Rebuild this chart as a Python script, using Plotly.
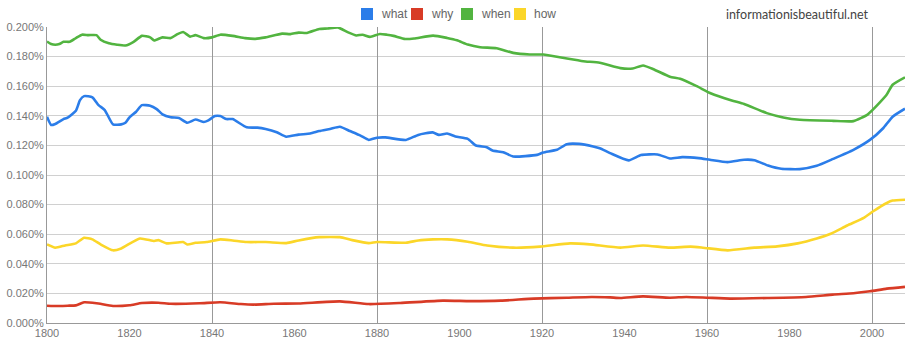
import plotly.graph_objects as go

# ---- data (percent of words) ----
when_years = [1800, 1801, 1802, 1803, 1804, 1805.5, 1807, 1808.5, 1810, 1812, 1813, 1815, 1817, 1819,
              1821, 1823, 1825, 1826, 1828, 1830, 1831.5, 1833, 1834.7, 1836, 1838, 1840, 1842, 1845,
              1848, 1850.5, 1853, 1857, 1859, 1861, 1863, 1866, 1868, 1870.5, 1873, 1875, 1876.5,
              1878.3, 1880.7, 1882.4, 1884, 1886.8, 1889, 1893.6, 1897, 1899.4, 1902, 1905, 1909,
              1913, 1917, 1920.3, 1925, 1930, 1934, 1939, 1942, 1944.5, 1947, 1951, 1953.5, 1957.5,
              1961, 1966, 1969, 1974.5, 1978.5, 1982.5, 1990.5, 1995.5, 1999, 2003.5, 2005, 2008]
when_vals = [0.1902, 0.1885, 0.188, 0.1885, 0.190, 0.190, 0.1925, 0.1948, 0.1945, 0.1945, 0.1914, 0.189,
             0.188, 0.1875, 0.190, 0.194, 0.193, 0.1909, 0.193, 0.1925, 0.195, 0.1966, 0.1935, 0.1945,
             0.1925, 0.193, 0.1948, 0.194, 0.1925, 0.192, 0.193, 0.1955, 0.1952, 0.1962, 0.196, 0.1987,
             0.1990, 0.1997, 0.1964, 0.1943, 0.1948, 0.1933, 0.1953, 0.1948, 0.194, 0.1919, 0.1922,
             0.1942, 0.1926, 0.191, 0.1881, 0.1863, 0.1857, 0.1825, 0.1814, 0.1814, 0.1792, 0.1769,
             0.1758, 0.1722, 0.172, 0.174, 0.1715, 0.1664, 0.165, 0.160, 0.1551, 0.1504, 0.148,
             0.1418, 0.1389, 0.1373, 0.1366, 0.1364, 0.1410, 0.1540, 0.161, 0.1660]

what_years = [1800, 1801, 1802, 1804, 1805, 1807, 1808, 1809, 1811, 1812.5, 1814, 1816, 1818, 1819, 1820,
              1821.6, 1823, 1825, 1826.6, 1828, 1830, 1832, 1834, 1836, 1838, 1839, 1840.7, 1842,
              1843.5, 1845, 1848.4, 1851, 1853, 1855.7, 1858, 1861, 1863.8, 1866, 1868.6, 1871,
              1873.4, 1876, 1878, 1880, 1882, 1887, 1890, 1893.5, 1895, 1897, 1899, 1902, 1904,
              1906.6, 1908, 1910.6, 1913, 1918.8, 1920.3, 1923.6, 1926, 1929, 1932.4, 1934, 1936.5,
              1941, 1944, 1948, 1951, 1954, 1958, 1960.7, 1965, 1969, 1971.5, 1974.8, 1978, 1982.5,
              1986.6, 1990.6, 1995.5, 1999.5, 2002.7, 2005, 2008]
what_vals = [0.1394, 0.1338, 0.1345, 0.1378, 0.1387, 0.1434, 0.1506, 0.1533, 0.1525, 0.1472, 0.1439,
             0.1342, 0.1342, 0.1353, 0.139, 0.1427, 0.1472, 0.1468, 0.1445, 0.141, 0.139, 0.1385,
             0.1353, 0.1375, 0.1358, 0.1367, 0.1398, 0.1398, 0.1378, 0.1378, 0.1322, 0.132, 0.1311,
             0.1289, 0.1259, 0.1273, 0.128, 0.1297, 0.1311, 0.1326, 0.1297, 0.1266, 0.1237, 0.1252,
             0.1254, 0.1237, 0.1271, 0.1288, 0.1271, 0.128, 0.126, 0.1244, 0.1199, 0.1188, 0.1165,
             0.1154, 0.1125, 0.1136, 0.1152, 0.117, 0.1208, 0.121, 0.1193, 0.1181, 0.1148, 0.1099,
             0.1135, 0.1139, 0.1112, 0.1121, 0.1114, 0.1103, 0.1087, 0.1103, 0.11, 0.1064, 0.1042,
             0.104, 0.1062, 0.1109, 0.117, 0.1237, 0.1316, 0.1394, 0.1448]

how_years = [1800, 1802, 1804.4, 1807, 1809, 1811, 1813, 1816, 1818, 1822.5, 1826, 1827, 1829, 1833,
             1834, 1836, 1838.7, 1842, 1845, 1848.4, 1853, 1858, 1861, 1866, 1871, 1874, 1878, 1880,
             1887, 1890, 1893.6, 1897, 1902, 1906.7, 1913, 1919.5, 1926.8, 1931.6, 1939, 1944.5,
             1951, 1956, 1959, 1965, 1971.5, 1977, 1982, 1986.6, 1990, 1994, 1998, 2000.3, 2003.6,
             2005, 2008]
how_vals = [0.0531, 0.0509, 0.0524, 0.0538, 0.0576, 0.0565, 0.0531, 0.0491, 0.0504, 0.0571, 0.0554,
            0.056, 0.0538, 0.0547, 0.0531, 0.0542, 0.0547, 0.0565, 0.0558, 0.0547, 0.0547, 0.054,
            0.0558, 0.058, 0.058, 0.056, 0.054, 0.0547, 0.0542, 0.0558, 0.0565, 0.0565, 0.0549,
            0.0524, 0.0509, 0.0516, 0.0538, 0.0531, 0.0509, 0.0524, 0.0509, 0.0516, 0.0509, 0.0491,
            0.0509, 0.0518, 0.0538, 0.0571, 0.0603, 0.0659, 0.0710, 0.0755, 0.0811, 0.0827, 0.0833]

why_years = [1800, 1801.5, 1805, 1807, 1809, 1812, 1816, 1820, 1823, 1827, 1830, 1837, 1842, 1847, 1850,
             1855, 1861, 1871, 1878, 1885.6, 1896, 1902.5, 1910, 1918, 1926, 1932, 1936.5, 1939,
             1944.5, 1951, 1955, 1960, 1965.6, 1974.6, 1984, 1990.5, 1995.5, 1999.5, 2003.6, 2008]
why_vals = [0.0117, 0.0115, 0.0117, 0.0119, 0.014, 0.0133, 0.0115, 0.012, 0.0135, 0.0137, 0.013,
            0.0133, 0.014, 0.0128, 0.0124, 0.013, 0.0132, 0.0146, 0.0128, 0.0135, 0.0151, 0.0148,
            0.0151, 0.0165, 0.0171, 0.0176, 0.0173, 0.0169, 0.018, 0.0171, 0.0176, 0.0171, 0.0165,
            0.0169, 0.0176, 0.0192, 0.0201, 0.0214, 0.0232, 0.0244]

series_names = ["what", "why", "when", "how"]
series_colors = ["#2b7de9", "#d83b26", "#52b440", "#fbd629"]
series_x = [what_years, why_years, when_years, how_years]
series_y = [what_vals, why_vals, when_vals, how_vals]

y_ticks = [0.0, 0.02, 0.04, 0.06, 0.08, 0.10, 0.12, 0.14, 0.16, 0.18, 0.20]
y_tick_text = [f"{v:.3f}%" for v in y_ticks]
x_ticks = [1800, 1820, 1840, 1860, 1880, 1900, 1920, 1940, 1960, 1980, 2000]
x_grid_step = 40
credit = "informationisbeautiful.net"

# ---- layout geometry ----
W, H = 910, 354
ML, MR, MT, MB = 47, 5, 27, 31
PW = W - ML - MR
legend_left_px = [361, 411, 461, 514]   # left edge of each legend swatch (page px)


def px_to_paper_x(px):
    return (px - ML) / PW


fig = go.Figure()

# invisible trace to anchor the vertical-grid axis
fig.add_trace(go.Scatter(x=[x_ticks[0], 2008], y=[0, 0], xaxis="x2", mode="lines",
                         line=dict(width=0), showlegend=False, hoverinfo="skip"))

for name, xs, ys, col in zip(series_names, series_x, series_y, series_colors):
    fig.add_trace(go.Scatter(x=xs, y=ys, mode="lines", name=name, showlegend=False,
                             line=dict(color=col, width=2.6, shape="spline", smoothing=0.5)))

tick_font = dict(family="Liberation Sans, Arial, sans-serif", size=11, color="#777")

shapes = []
annotations = []
for name, col, lx in zip(series_names, series_colors, legend_left_px):
    shapes.append(dict(type="rect", xref="paper", yref="paper",
                       xsizemode="pixel", ysizemode="pixel",
                       xanchor=px_to_paper_x(lx), yanchor=1.0,
                       x0=0, x1=12, y0=7, y1=19,
                       fillcolor=col, line=dict(width=0)))
    annotations.append(dict(text=name, xref="paper", yref="paper",
                            x=px_to_paper_x(lx + 18), y=1.0, xanchor="left", yanchor="middle",
                            yshift=13, showarrow=False,
                            font=dict(family="Liberation Sans, Arial, sans-serif", size=12,
                                      color="#666")))
annotations.append(dict(text=credit, xref="paper", yref="paper",
                        x=px_to_paper_x(871), y=1.0, xanchor="right", yanchor="middle",
                        yshift=13, showarrow=False,
                        font=dict(family="Lato, sans-serif", size=12.5, color="#444")))

fig.update_layout(
    width=W, height=H,
    margin=dict(l=ML, r=MR, t=MT, b=MB),
    paper_bgcolor="white", plot_bgcolor="white",
    font=tick_font,
    showlegend=False,
    xaxis=dict(range=[1800, 2008], tickvals=x_ticks, showgrid=False, zeroline=False,
               showline=True, linecolor="#999", linewidth=1, ticks="", tickfont=tick_font),
    xaxis2=dict(range=[1800, 2008], overlaying="x", dtick=x_grid_step, tick0=1800,
                showgrid=True, gridcolor="#999", gridwidth=1, showticklabels=False,
                zeroline=False, showline=False, ticks=""),
    yaxis=dict(range=[0, 0.2], tickvals=y_ticks, ticktext=y_tick_text,
               showgrid=True, gridcolor="#d0d0d0", gridwidth=1, zeroline=False,
               showline=True, linecolor="#999", linewidth=1, ticks="", tickfont=tick_font),
    shapes=shapes,
    annotations=annotations,
)

fig.write_html("out.html")
